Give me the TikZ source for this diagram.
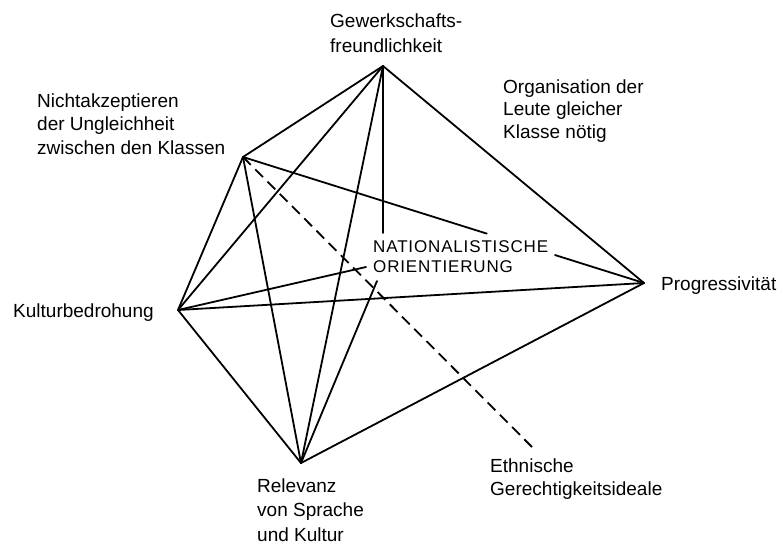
\documentclass[tikz,border=0pt]{standalone}
\usepackage{fontspec}
\setmainfont{Liberation Sans}
\newfontfamily\capsfont[LetterSpace=5]{Liberation Sans}
\usetikzlibrary{calc}
\newcommand\mylbl[2]{{\fontsize{19}{#1}\selectfont\begin{tabular}[t]{@{}l@{}}#2\end{tabular}}}
\begin{document}
\begin{tikzpicture}[x=1pt,y=-1pt,
  edge/.style={line width=1.8pt,line cap=round},
  dashedge/.style={line width=1.8pt,dash pattern=on 11pt off 6.33pt},
  lbl/.style={inner sep=0pt,anchor=base west}]
\useasboundingbox (0,0) rectangle (779,547);
% vertices
\coordinate (G) at (383,66);
\coordinate (N) at (243,157);
\coordinate (K) at (178,310);
\coordinate (P) at (644,283);
\coordinate (R) at (301,463);
\coordinate (E) at (532,447);
\coordinate (cG) at (383,233);
\coordinate (cK) at (366,267);
\coordinate (cR) at (377,281);
% labels
\node[lbl] (tG) at (330,27) {\mylbl{25}{Gewerkschafts-\\freundlichkeit}};
\node[lbl] (tN) at (37,107) {\mylbl{23.5}{Nichtakzeptieren\\der Ungleichheit\\zwischen den Klassen}};
\node[lbl] (tO) at (503,93) {\mylbl{22.5}{Organisation der\\Leute gleicher\\Klasse nötig}};
\node[lbl] (tK) at (13,317) {\mylbl{24}{Kulturbedrohung}};
\node[lbl] (tP) at (661,290) {\mylbl{24}{Progressivität}};
\node[lbl] (tR) at (257,492) {\mylbl{24.5}{Relevanz\\von Sprache\\und Kultur}};
\node[lbl] (tE) at (490,472) {\mylbl{23}{Ethnische\\Gerechtigkeitsideale}};
\node[lbl] (C) at (373,252) {{\capsfont\fontsize{17}{20}\selectfont\begin{tabular}[t]{@{}l@{}}NATIONALISTISCHE\\ORIENTIERUNG\end{tabular}}};
% connectors
\draw[edge] (G) -- (N);
\draw[edge] (G) -- (K);
\draw[edge] (G) -- (R);
\draw[edge] (G) -- (cG);
\draw[edge] (G) -- (P);
\draw[edge] (N) -- (K);
\draw[edge] (N) -- (R);
\draw[edge] (N) -- ($(N)!0.608!(P)$);
\draw[edge] ($(N)!0.778!(P)$) -- (P);
\draw[dashedge] (N) -- (E);
\draw[edge] (K) -- (cK);
\draw[edge] (K) -- (P);
\draw[edge] (K) -- (R);
\draw[edge] (R) -- (cR);
\draw[edge] (R) -- (P);
\end{tikzpicture}
\end{document}
